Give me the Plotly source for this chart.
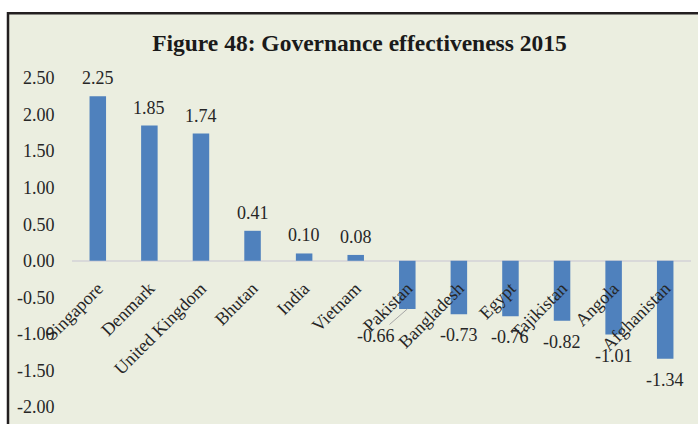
import plotly.graph_objects as go

# Governance effectiveness scores, 2015
countries = ["Singapore", "Denmark", "United Kingdom", "Bhutan", "India", "Vietnam",
             "Pakistan", "Bangladesh", "Egypt", "Tajikistan", "Angola", "Afghanistan"]
scores = [2.25, 1.85, 1.74, 0.41, 0.10, 0.08, -0.66, -0.73, -0.76, -0.82, -1.01, -1.34]

y_ticks = [2.5, 2.0, 1.5, 1.0, 0.5, 0.0, -0.5, -1.0, -1.5, -2.0]
y_tick_text = ["2.50", "2.00", "1.50", "1.00", "0.50", "0.00", "-0.50", "-1.00", "-1.50", "-2.00"]

Y_MIN, Y_MAX = -2.0, 2.5
SERIF = "Liberation Serif, Times New Roman, serif"
TEXT = "#262626"
BAR = "#4F81BD"
FS = 18

fig = go.Figure(go.Bar(
    x=countries, y=scores, marker=dict(color=BAR, line=dict(width=0)),
    hoverinfo="skip",
))

# value labels (Pakistan's label is pulled aside with a leader line)
annotations = []
for c, v in zip(countries, scores):
    label = f"{v:.2f}"
    if c == "Pakistan":
        annotations.append(dict(
            x=c, y=v, xref="x", yref="y", text=label, showarrow=True,
            arrowhead=0, arrowwidth=1, arrowcolor="#A6A6A6",
            ax=-31, ay=27, font=dict(family=SERIF, size=FS, color=TEXT)))
    else:
        annotations.append(dict(
            x=c, y=v, xref="x", yref="y", text=label, showarrow=False,
            yanchor="middle", yshift=18 if v >= 0 else -21,
            font=dict(family=SERIF, size=FS, color=TEXT)))

# x axis sits on the zero line
zero_pos = (0 - Y_MIN) / (Y_MAX - Y_MIN)

fig.update_layout(
    width=698, height=424,
    margin=dict(l=72, r=7, t=78, b=11),
    paper_bgcolor="white",
    plot_bgcolor="rgba(0,0,0,0)",
    bargap=0.68,
    showlegend=False,
    title=dict(
        text="<b>Figure 48: Governance effectiveness 2015</b>",
        x=0.515, xref="container", xanchor="center",
        y=1 - 43 / 424, yref="container", yanchor="middle",
        font=dict(family=SERIF, size=23.5, color="#1a1a1a")),
    xaxis=dict(
        anchor="free", position=zero_pos, showline=False, showgrid=False,
        ticks="outside", ticklen=9, tickcolor="rgba(0,0,0,0)",
        tickangle=-45, tickfont=dict(family=SERIF, size=FS, color=TEXT),
        fixedrange=True),
    yaxis=dict(
        range=[Y_MIN, Y_MAX], tickvals=y_ticks, ticktext=y_tick_text,
        showgrid=False, showline=False,
        zeroline=True, zerolinecolor="#D9D9D9", zerolinewidth=2,
        ticks="outside", ticklen=13, tickcolor="rgba(0,0,0,0)",
        tickfont=dict(family=SERIF, size=FS, color=TEXT),
        fixedrange=True),
    annotations=annotations,
    shapes=[dict(
        type="rect", xref="paper", yref="paper", layer="below",
        x0=(8 - 72) / 619, x1=1.2, y0=-0.2, y1=(413 - 12) / 335,
        fillcolor="#EBEEE0", line=dict(color="#231F20", width=2.5))],
)

fig.write_html("out.html")
